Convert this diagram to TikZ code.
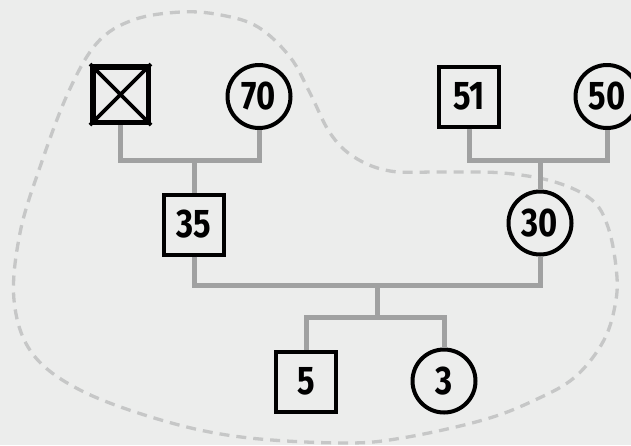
\documentclass[tikz,border=0pt]{standalone}
\usepackage{fontspec}
\setmainfont{Fira Sans}[FakeStretch=0.82]
\usetikzlibrary{positioning}
\definecolor{paper}{HTML}{ECEDEC}
\definecolor{kinline}{HTML}{A0A1A1}
\definecolor{hull}{HTML}{C6C7C7}

\begin{document}
\begin{tikzpicture}[x=1pt,y=-1pt,
    male/.style={draw,line width=4pt,minimum size=60pt,inner sep=0pt,
        font=\fontsize{40}{40}\selectfont\bfseries},
    female/.style={male,circle,minimum size=63pt},
    kin/.style={draw=kinline,line width=5pt}]
    \clip (0,0) rectangle (631,445);
    \fill[paper] (0,0) rectangle (631,445);
    % the dashed outline round the household
    \draw[hull,line width=3.3pt,dash pattern=on 10pt off 7pt]
        plot[smooth cycle,tension=0.6] coordinates {
        (181,12) (221,15) (258,27) (290,57) (310,93) (330,133) (354,157)
        (390,171) (443,172) (503,173) (555,182) (592,200) (608,227)
        (616,267) (616,300) (604,340) (575,377) (535,400) (483,420)
        (402,438) (342,443) (241,437) (161,420) (80,390) (32,353)
        (14,300) (20,233) (40,167) (68,93) (97,43) (133,20)};
    % bars between couples and their children
    \coordinate (barA) at (0,160);
    \coordinate (barB) at (0,285);
    \coordinate (barC) at (0,317);
    \coordinate (dropC) at (377,0);
    % grandparents
    \node[male,line width=5.5pt,minimum size=55.5pt] (dec) at (120.5,94.5) {};
    \draw[line width=3.6pt] (dec.north west)--(dec.south east)
        (dec.north east)--(dec.south west);
    \node[female] (g70) at (259,96.5) {70};
    \node[male] (g51) at (469,96.5) {51};
    \node[female] (g50) at (607,96.5) {50};
    % parents
    \node[male] (p35) at (194,224.5) {35};
    \node[female] (p30) at (540,223) {30};
    % children
    \node[male] (c5) at (306,381.5) {5};
    \node[female] (c3) at (444,381) {3};
    % lines of descent
    \draw[kin] (dec.south)--(dec.south|-barA)-|(g70.south);
    \draw[kin] (p35|-barA)--(p35.north);
    \draw[kin] (g51.south)--(g51.south|-barA)-|(g50.south);
    \draw[kin] (p30|-barA)--(p30.north);
    \draw[kin] (p35.south)--(p35.south|-barB)-|(p30.south);
    \draw[kin] (dropC|-barB)--(dropC|-barC);
    \draw[kin] (c5.north)--(c5.north|-barC)-|(c3.north);
\end{tikzpicture}
\end{document}
